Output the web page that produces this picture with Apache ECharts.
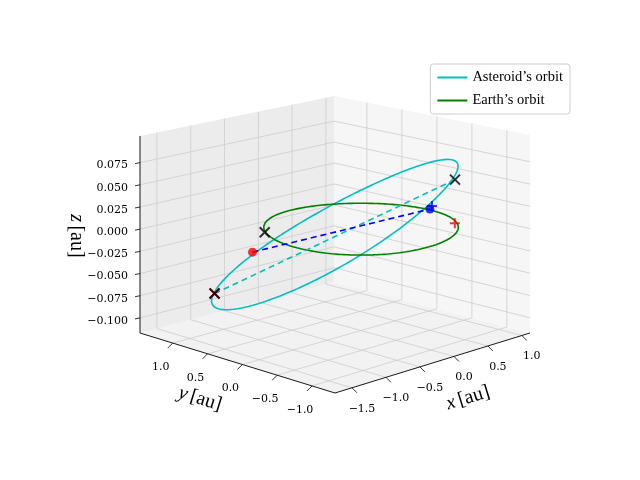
<!DOCTYPE html>
<html><head><meta charset="utf-8">
<script src="https://cdn.jsdelivr.net/npm/echarts@6/dist/echarts.min.js"></script>
<style>html,body{margin:0;padding:0;background:#fff}#c{width:640px;height:480px}</style>
</head><body><div id="c"></div>
<script>
// ---- data ----
const xLim = [-1.75, 1.12];
const yLim = [-1.33, 1.47];
const zLim = [-0.117, 0.105];
const xTicks = [-1.5, -1.0, -0.5, 0.0, 0.5, 1.0];
const yTicks = [-1.0, -0.5, 0.0, 0.5, 1.0];
const zTicks = [-0.100, -0.075, -0.050, -0.025, 0.000, 0.025, 0.050, 0.075];
const xTickLabels = ['−1.5', '−1.0', '−0.5', '0.0', '0.5', '1.0'];
const yTickLabels = ['−1.0', '−0.5', '0.0', '0.5', '1.0'];
const zTickLabels = ['−0.100', '−0.075', '−0.050', '−0.025', '0.000', '0.025', '0.050', '0.075'];
// asteroid orbit: centre and two conjugate semi-axis vectors (3D, au)
const astCentre = [-0.241, 0.142, -0.006];
const astAxisA = [0.922, -0.854, 0.080];
const astAxisB = [0.803, 1.024, -0.0116];
const earthRadius = [1.0];
// markers (3D, au)
const nodeA = [-0.816, 1.306, -0.087];
const nodeB = [0.259, -1.094, 0.071];
const blackCross = [[-0.816, 1.306, -0.087], [0.259, -1.094, 0.071], [-0.874, 0.531, 0.002]];
const redCross = [[-0.816, 1.306, -0.087]];
const redDot = [[-0.191, 1.369, -0.053]];
const blueDot = [[0.017, -0.970, 0.041]];
const redPlus = [[0.788, -0.578, 0.0]];
const bluePlus = [[0.236, -0.786, 0.036]];

// ---- projection (box corners on screen, bilinear) ----
const F = [335, 393], R = [530, 333], L = [140, 333], B = [334, 282];
const HF = 197, HR = 198, HL = 197, HB = 186;
function proj(p) {
  const u = (p[0] - xLim[0]) / (xLim[1] - xLim[0]);
  const v = (p[1] - yLim[0]) / (yLim[1] - yLim[0]);
  const w = (p[2] - zLim[0]) / (zLim[1] - zLim[0]);
  const a = (1 - u) * (1 - v), b = u * (1 - v), c = (1 - u) * v, d = u * v;
  const x = a * F[0] + b * R[0] + c * L[0] + d * B[0];
  const y = a * F[1] + b * R[1] + c * L[1] + d * B[1];
  const h = a * HF + b * HR + c * HL + d * HB;
  return [x, y - h * w];
}

const N = 240;
const earth = [];
for (let i = 0; i <= N; i++) { const t = 2 * Math.PI * i / N; earth.push(proj([earthRadius[0] * Math.cos(t), earthRadius[0] * Math.sin(t), 0])); }
const ast = [];
for (let i = 0; i <= N; i++) { const t = 2 * Math.PI * i / N; ast.push(proj([0, 1, 2].map(k => astCentre[k] + Math.cos(t) * astAxisA[k] + Math.sin(t) * astAxisB[k]))); }

// ---- static box ----
const X0 = xLim[0], X1 = xLim[1], Y0 = yLim[0], Y1 = yLim[1], Z0 = zLim[0], Z1 = zLim[1];
function poly(pts, fill) { return { type: 'polygon', shape: { points: pts.map(proj) }, style: { fill: fill, stroke: null } }; }
function seg(a, b, col, w) { const p = proj(a), q = proj(b); return { type: 'line', shape: { x1: p[0], y1: p[1], x2: q[0], y2: q[1] }, style: { stroke: col, lineWidth: w } }; }
function txt(p, dx, dy, t, align, size) { const q = proj(p); return { type: 'text', x: q[0] + dx, y: q[1] + dy, style: { text: t, fill: '#000', font: (size || 11) + 'px "DejaVu Serif"', align: align || 'center', verticalAlign: 'middle' } }; }
function axisLabel(x, y, rot, letter) {
  return { type: 'text', x: x, y: y, rotation: rot, style: { text: '{i|' + letter + '} {n|[au]}', align: 'center', verticalAlign: 'middle',
    rich: { i: { font: 'italic 20px "Liberation Serif"', fill: '#000' }, n: { font: '20px "Liberation Serif"', fill: '#000' } } } };
}
function staticGroup() {
  const ch = [];
  ch.push(poly([[X0, Y0, Z0], [X1, Y0, Z0], [X1, Y1, Z0], [X0, Y1, Z0]], '#f2f2f2'));
  ch.push(poly([[X0, Y1, Z0], [X1, Y1, Z0], [X1, Y1, Z1], [X0, Y1, Z1]], '#ececec'));
  ch.push(poly([[X1, Y0, Z0], [X1, Y1, Z0], [X1, Y1, Z1], [X1, Y0, Z1]], '#f6f6f6'));
  const g = '#cdcdcd';
  xTicks.forEach(x => { ch.push(seg([x, Y0, Z0], [x, Y1, Z0], g, 0.8)); ch.push(seg([x, Y1, Z0], [x, Y1, Z1], g, 0.8)); });
  yTicks.forEach(y => { ch.push(seg([X0, y, Z0], [X1, y, Z0], g, 0.8)); ch.push(seg([X1, y, Z0], [X1, y, Z1], g, 0.8)); });
  zTicks.forEach(z => { ch.push(seg([X0, Y1, z], [X1, Y1, z], g, 0.8)); ch.push(seg([X1, Y1, z], [X1, Y0, z], g, 0.8)); });
  ch.push(seg([X0, Y0, Z0], [X1, Y0, Z0], '#000', 0.9));
  ch.push(seg([X0, Y0, Z0], [X0, Y1, Z0], '#000', 0.9));
  ch.push(seg([X0, Y1, Z0], [X0, Y1, Z1], '#000', 0.9));
  xTicks.forEach((x, i) => { const p = proj([x, Y0, Z0]); ch.push({ type: 'line', shape: { x1: p[0], y1: p[1], x2: p[0] + 5, y2: p[1] + 5 }, style: { stroke: '#000', lineWidth: 0.8 } }); ch.push(txt([x, Y0, Z0], 10, 21, xTickLabels[i])); });
  yTicks.forEach((y, i) => { const p = proj([X0, y, Z0]); ch.push({ type: 'line', shape: { x1: p[0], y1: p[1], x2: p[0] - 5, y2: p[1] + 5 }, style: { stroke: '#000', lineWidth: 0.8 } }); ch.push(txt([X0, y, Z0], -12, 24, yTickLabels[i])); });
  zTicks.forEach((z, i) => { const p = proj([X0, Y1, z]); ch.push({ type: 'line', shape: { x1: p[0], y1: p[1], x2: p[0] - 5, y2: p[1] + 1 }, style: { stroke: '#000', lineWidth: 0.8 } }); ch.push(txt([X0, Y1, z], -12, 3, zTickLabels[i], 'right')); });
  ch.push(axisLabel(468, 398, 0.3, 'x'));
  ch.push(axisLabel(200, 399, -0.3, 'y'));
  ch.push(axisLabel(76, 236, -Math.PI / 2, 'z'));
  return ch;
}

const crossPath = 'path://M0,0L10,10M10,0L0,10';
const plusPath = 'path://M5,0L5,10M0,5L10,5';
function markSeries(pts, sym, col, size, z) {
  return { type: 'scatter', data: pts.map(proj), symbol: sym, symbolSize: size, z: z, silent: true,
    itemStyle: sym.startsWith('path') ? { color: 'none', borderColor: col, borderWidth: 2 } : { color: col } };
}

const chart = echarts.init(document.getElementById('c'), null, { renderer: 'canvas' });
chart.setOption({
  animation: false,
  grid: { left: 0, right: 0, top: 0, bottom: 0 },
  xAxis: { type: 'value', min: 0, max: 640, show: false },
  yAxis: { type: 'value', min: 0, max: 480, inverse: true, show: false },
  legend: {
    orient: 'vertical', right: 70, top: 64, itemWidth: 30, itemHeight: 2, itemGap: 8,
    backgroundColor: '#fff', borderColor: '#ccc', borderWidth: 1, borderRadius: 3, padding: [6, 7],
    textStyle: { fontFamily: 'Liberation Serif', fontSize: 14.5, color: '#000' },
    data: [{ name: "Asteroid’s orbit", icon: 'rect' }, { name: "Earth’s orbit", icon: 'rect' }]
  },
  series: [
    { type: 'custom', silent: true, z: 1, data: [[0, 0]], renderItem: () => ({ type: 'group', children: staticGroup() }) },
    { name: "Asteroid’s orbit", type: 'line', data: ast, symbol: 'none', z: 3, lineStyle: { color: '#00bfbf', width: 1.6 }, itemStyle: { color: '#00bfbf' } },
    { name: "Earth’s orbit", type: 'line', data: earth, symbol: 'none', z: 3, lineStyle: { color: '#008000', width: 1.6 }, itemStyle: { color: '#008000' } },
    { type: 'line', data: [proj(nodeA), proj(nodeB)], symbol: 'none', z: 4, lineStyle: { color: '#00bfbf', width: 1.6, type: [6, 4] } },
    { type: 'line', data: [proj(redDot[0]), proj(blueDot[0])], symbol: 'none', z: 4, lineStyle: { color: '#0000ff', width: 1.6, type: [6, 4] } },
    markSeries(redCross, crossPath, '#ff0000', 10, 5),
    markSeries(blackCross, crossPath, '#000', 10, 6),
    markSeries(redDot, 'circle', '#ff0000', 9, 6),
    markSeries(blueDot, 'circle', '#0000ff', 9, 6),
    markSeries(redPlus, plusPath, '#ff0000', 10, 6),
    markSeries(bluePlus, plusPath, '#0000ff', 10, 6)
  ]
});
</script></body></html>
